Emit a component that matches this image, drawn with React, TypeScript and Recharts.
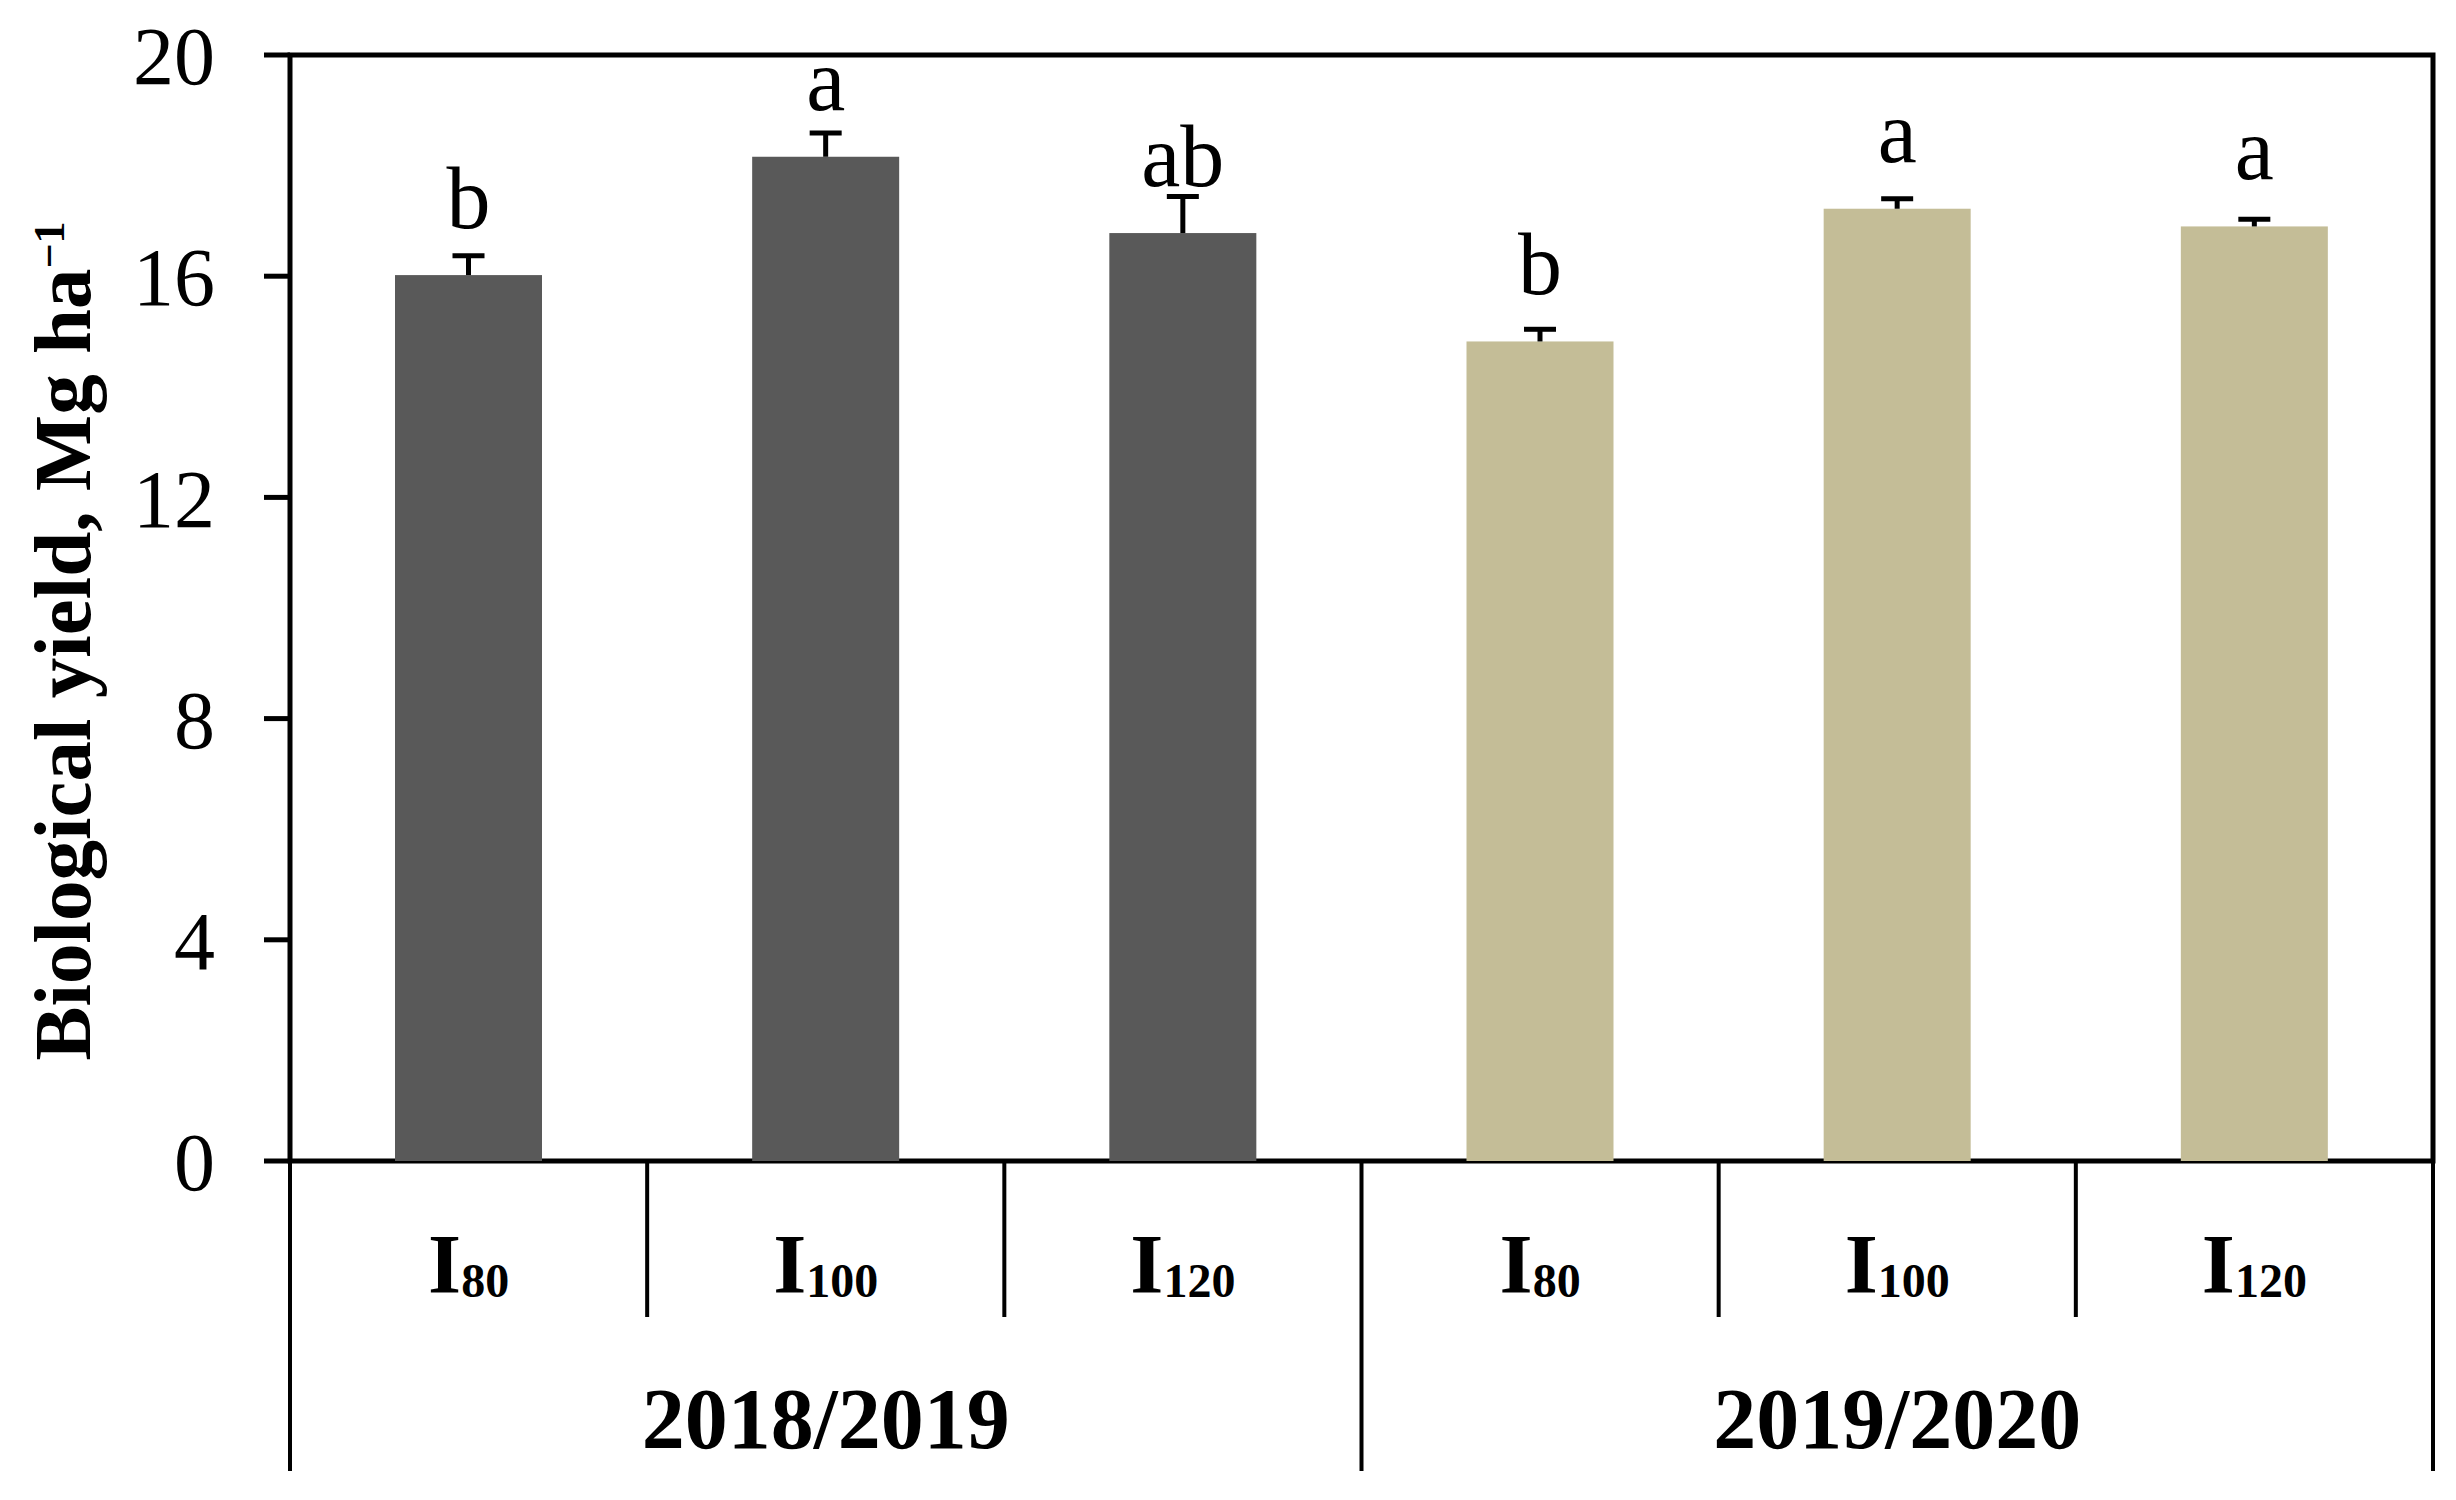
import React from 'react';
import { BarChart, Bar, XAxis, YAxis, Cell, LabelList, ReferenceArea } from 'recharts';

const seasons = ['2018/2019', '2019/2020'];
const treatments = ['80', '100', '120'];
const yield2018 = [16.02, 18.16, 16.78];
const yield2020 = [14.82, 17.22, 16.9];
const se2018 = [0.35, 0.43, 0.66];
const se2020 = [0.22, 0.18, 0.13];
const letters2018 = ['b', 'a', 'ab'];
const letters2020 = ['b', 'a', 'a'];
const yTicks = [0, 4, 8, 12, 16, 20];

const seasonColors = ['#595959', '#C4BD97'];
const FONT = '"Liberation Serif", "Times New Roman", serif';

const W = 2456;
const H = 1500;
const M = { top: 55, right: 23, left: 0, bottom: 0 };
const Y_AXIS_W = 290;
const X_AXIS_H = 339;

const data = [
  ...treatments.map((t, i) => ({
    key: `${seasons[0]}|${t}`,
    season: 0,
    treat: t,
    value: yield2018[i],
    err: se2018[i],
    letter: letters2018[i],
  })),
  ...treatments.map((t, i) => ({
    key: `${seasons[1]}|${t}`,
    season: 1,
    treat: t,
    value: yield2020[i],
    err: se2020[i],
    letter: letters2020[i],
  })),
];

const BarWithErr = (props: any) => {
  const { x, y, width, height, fill, payload } = props;
  if (x == null || y == null) return null;
  const cx = x + width / 2;
  const pxPerUnit = payload.value ? height / payload.value : 0;
  const top = y - payload.err * pxPerUnit;
  return (
    <g>
      <rect x={x} y={y} width={width} height={height} fill={fill} />
      <line x1={cx} y1={y} x2={cx} y2={top} stroke="#000" strokeWidth={5} />
      <line x1={cx - 16} y1={top} x2={cx + 16} y2={top} stroke="#000" strokeWidth={5} />
    </g>
  );
};

const LetterLabel = (props: any) => {
  const x = props.x ?? props.viewBox?.x;
  const y = props.y ?? props.viewBox?.y;
  const width = props.width ?? props.viewBox?.width;
  if (x == null || y == null) return null;
  return (
    <text
      x={x + width / 2}
      y={y - 47}
      textAnchor="middle"
      fontFamily={FONT}
      fontSize={88}
      fill="#000"
    >
      {props.value}
    </text>
  );
};

const CatTick = (props: any) => {
  const { x, y, payload } = props;
  const index = payload?.index ?? props.index ?? 0;
  const half =
    payload?.offset ??
    (W - M.left - M.right - Y_AXIS_W) / data.length / 2;
  const [season, treat] = String(payload.value).split('|');
  const isGroupStart = index % 3 === 0;
  const isGroupMid = index % 3 === 1;
  const isLast = index === data.length - 1;
  const shortLen = 156;
  const longLen = 310;
  return (
    <g>
      <line
        x1={x - half}
        x2={x - half}
        y1={y}
        y2={y + (isGroupStart ? longLen : shortLen)}
        stroke="#000"
        strokeWidth={4}
      />
      {isLast && (
        <line x1={x + half} x2={x + half} y1={y} y2={y + longLen} stroke="#000" strokeWidth={4} />
      )}
      <text
        x={x}
        y={y + 132}
        textAnchor="middle"
        fontFamily={FONT}
        fontWeight="bold"
        fill="#000"
      >
        <tspan fontSize={85}>I</tspan>
        <tspan fontSize={48} dy={4}>
          {treat}
        </tspan>
      </text>
      {isGroupMid && (
        <text
          x={x}
          y={y + 287}
          textAnchor="middle"
          fontFamily={FONT}
          fontWeight="bold"
          fontSize={86}
          fill="#000"
        >
          {season}
        </text>
      )}
    </g>
  );
};

const YLabel = (props: any) => {
  const vb = props.viewBox || { x: 0, y: M.top, width: Y_AXIS_W, height: H - M.top - X_AXIS_H };
  const cx = vb.x + 90;
  const cy = vb.y + vb.height / 2 + 33;
  return (
    <text
      x={cx}
      y={cy}
      transform={`rotate(-90, ${cx}, ${cy})`}
      textAnchor="middle"
      fontFamily={FONT}
      fontWeight="bold"
      fontSize={81}
      fill="#000"
    >
      Biological yield, Mg ha
      <tspan fontSize={44} dy={-26}>
        −1
      </tspan>
    </text>
  );
};

export default function App() {
  return (
    <div style={{ position: 'absolute', left: 0, top: 0, background: '#fff' }}>
      <BarChart width={W} height={H} data={data} margin={M} barSize={147}>
        <XAxis
          dataKey="key"
          height={X_AXIS_H}
          tickLine={false}
          axisLine={false}
          interval={0}
          tickSize={0}
          tickMargin={0}
          tick={(p: any) => <CatTick {...p} />}
        />
        <YAxis
          width={Y_AXIS_W}
          domain={[0, 20]}
          ticks={yTicks}
          interval={0}
          tickSize={26}
          tickMargin={49}
          tickLine={{ stroke: '#000', strokeWidth: 5 }}
          axisLine={false}
          tick={{ fill: '#000', fontSize: 82, fontFamily: FONT }}
          label={{ content: (p: any) => <YLabel {...p} /> } as any}
        />
        <Bar dataKey="value" isAnimationActive={false} shape={(p: any) => <BarWithErr {...p} />}>
          {data.map((d, i) => (
            <Cell key={i} fill={seasonColors[d.season]} />
          ))}
          <LabelList dataKey="letter" content={(p: any) => <LetterLabel {...p} />} />
        </Bar>
        <ReferenceArea y1={0} y2={20} fill="none" fillOpacity={0} stroke="#000" strokeWidth={5} />
      </BarChart>
    </div>
  );
}
